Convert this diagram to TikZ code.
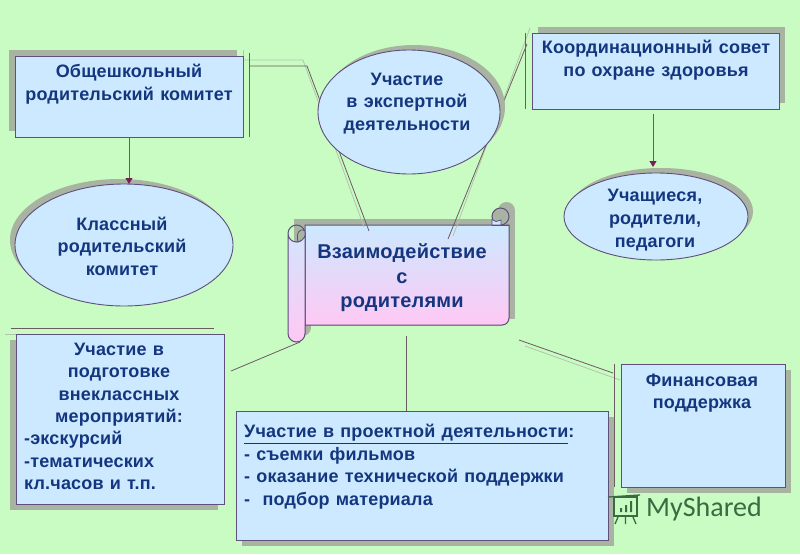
\documentclass[tikz,border=0pt]{standalone}
\usepackage{fontspec}
\setmainfont[LetterSpace=1,WordSpace=1.2]{Liberation Sans}
\newfontfamily\markfont{Carlito}
\usetikzlibrary{shapes.geometric,arrows.meta,calc}
\definecolor{bgc}{HTML}{C8FCC2}
\definecolor{boxc}{HTML}{CCE9FF}
\definecolor{shad}{HTML}{A9B3A2}
\definecolor{edge}{HTML}{5F4F7C}
\definecolor{txtc}{HTML}{14367F}
\definecolor{linec}{HTML}{6E5A62}
\definecolor{lightl}{HTML}{B4C4AC}
\definecolor{arrc}{HTML}{7A1F55}
\definecolor{pinkc}{HTML}{FFC8F4}
\definecolor{markc}{HTML}{3A6A42}
\tikzset{
  x=1pt,y=-1pt,
  panel/.style={draw=edge,line width=0.9pt,fill=boxc},
  shadowfill/.style={fill=shad,draw=none},
  label/.style={font=\fontsize{18}{22.6}\selectfont\bfseries,text=txtc,align=center,inner sep=0pt},
  leftlabel/.style={label,align=left},
  conn/.style={draw=linec,line width=0.8pt},
  ghost/.style={draw=lightl,line width=0.8pt},
  arr/.style={conn,-{Triangle[length=6pt,width=7pt,color=arrc,fill=arrc]}},
  rollline/.style={draw=edge,line width=1pt},
}
\newcommand{\boxat}[6]{% name x1 y1 x2 y2 (shadow dx,dy)
  \fill[shadowfill] ($(#2,#3)+(#6)$) rectangle ($(#4,#5)+(#6)$);
  \node[panel,rectangle,inner sep=0pt,minimum width=#4pt-#2pt,minimum height=#5pt-#3pt] (#1) at ({(#2+#4)/2},{(#3+#5)/2}) {};
}
\newcommand{\ellat}[6]{% name cx cy rx ry shadow
  \fill[shadowfill] ($(#2,#3)+(#6)$) ellipse [x radius=#4pt,y radius=#5pt];
  \node[panel,ellipse,inner sep=0pt,minimum width=2*#4pt,minimum height=2*#5pt] (#1) at (#2,#3) {};
}
\begin{document}
\begin{tikzpicture}
\useasboundingbox (0,0) rectangle (800,554);
\fill[bgc] (0,0) rectangle (800,554);

% free ends
\coordinate (a1) at (249,66); \coordinate (a2) at (307,66); \coordinate (a3) at (369,231);
\coordinate (g1) at (243,60); \coordinate (g2) at (303,60); \coordinate (g3) at (364,227);
\coordinate (b1) at (527,44); \coordinate (b2) at (448,239);
\coordinate (g4) at (530,28); \coordinate (g5) at (453,236);
\coordinate (v1t) at (249,53); \coordinate (v1b) at (249,137);
\coordinate (v0t) at (243,50); \coordinate (v0b) at (243,56);
\coordinate (v2t) at (525,33); \coordinate (v2b) at (525,109);
\coordinate (c1) at (300,342); \coordinate (c2) at (231,371);
\coordinate (d1) at (11,328); \coordinate (d2) at (214,328);
\coordinate (d3) at (5,334); \coordinate (d4) at (200,334);
\coordinate (e1) at (406,336); \coordinate (e2) at (406,411);
\coordinate (f1) at (519,340); \coordinate (f2) at (613,373);
\coordinate (g6) at (525,346); \coordinate (g7) at (620,380);
\coordinate (v3t) at (614,364); \coordinate (v3b) at (614,487);
\coordinate (h1) at (129,137); \coordinate (h2) at (129,184);
\coordinate (i1) at (653,114); \coordinate (i2) at (653,167);

% scroll
\fill[shadowfill] (294,219) rectangle (515,319);
\fill[shadowfill] (506.5,210.5) circle[radius=8.5];
\fill[shadowfill] (498,210.5) rectangle (515,225);
\fill[shadowfill] (294,234) rectangle (311,327.5);
\fill[shadowfill] (302.5,327.5) circle[radius=8.5];
\fill[top color=boxc,bottom color=pinkc,draw=edge,line width=1pt]
  (305,225) -- (509,225) -- (509,318) arc[start angle=0,end angle=90,radius=7] -- (305,325) -- cycle;
\fill[top color=boxc!85!pinkc,bottom color=pinkc,draw=edge,line width=1pt]
  (288,233.5) arc[start angle=180,end angle=0,radius=8.5] -- (305,333.5)
  arc[start angle=0,end angle=180,radius=8.5] -- cycle;
\draw[rollline] (288,233.5) arc[start angle=180,end angle=360,radius=8.5];
\fill[shad,rollline,line width=0.8pt] (298,242) .. controls (304,240) and (306,236) .. (305,231) .. controls (299,227) and (296,234) .. (298,242) -- cycle;
\fill[shad,rollline] (500.5,216.5) circle[radius=8.5];
\fill[boxc,draw=edge,line width=0.8pt] (492,225) -- (492,219.5) -- (496,221.5) -- (501,220) -- (501,225) -- cycle;
\draw[rollline] (492,225) -- (509,225);
\node[inner sep=0pt,minimum width=204pt,minimum height=100pt] (scroll) at (407,275) {};

% connectors
\draw[ghost] (v0t) -- (v0b);
\draw[ghost] (g1) -- (g2) -- (g3);
\draw[ghost] (g4) -- (g5);
\draw[ghost] (g6) -- (g7);
\draw[ghost] (d3) -- (d4);
\draw[conn] (a1) -- (a2) -- (a3);
\draw[conn] (b1) -- (b2);
\draw[conn] (v1t) -- (v1b);
\draw[conn] (v2t) -- (v2b);
\draw[conn] (c1) -- (c2);
\draw[conn] (d1) -- (d2);
\draw[conn] (e1) -- (e2);
\draw[conn] (f1) -- (f2);
\draw[conn] (v3t) -- (v3b);

% shapes
\boxat{school}{15}{56}{243}{137}{-6,-6}
\ellat{klass}{124}{245}{109}{61}{-5,-5}
\ellat{expert}{409}{112}{91}{62}{5,-5}
\boxat{coord}{532}{33}{779}{109}{6,-6}
\ellat{pupils}{656}{216.5}{92}{43.5}{5,-5}
\boxat{events}{16}{334}{224}{504}{-6,6}
\boxat{project}{236}{411}{608}{540}{6,6}
\boxat{finance}{621}{364}{785}{487}{6,6}

\draw[arr] (h1) -- (h2);
\draw[arr] (i1) -- (i2);

% texts
\node[label] (t1) at (129,84) {Общешкольный\\родительский комитет};
\node[label] (t2) at (122,246) {Классный\\родительский\\комитет};
\node[label] (t3) at (407,103.5) {Участие\\в экспертной\\деятельности};
\node[label] (t4) at (656,60) {Координационный совет\\по охране здоровья};
\node[label] (t5) at (655,220) {Учащиеся,\\родители,\\педагоги};
\node[label,font=\fontsize{20}{24.5}\selectfont\bfseries] (t6) at (402,278) {Взаимодействие\\с\\родителями};
\node[label,anchor=north] (t7) at (119,342.5) {Участие в\\подготовке\\внеклассных\\мероприятий:};
\node[leftlabel,anchor=north west] (t8) at (24,431) {-экскурсий\\-тематических\\кл.часов и т.п.};
\node[leftlabel,anchor=north west] (t9) at (244,424) {\underline{Участие в проектной деятельности}:\\- съемки фильмов\\- оказание технической поддержки\\-\ \ подбор материала};
\node[label] (t10) at (702,393) {Финансовая\\поддержка};

% watermark
\begin{scope}[draw=markc,line width=1.3pt]
\draw (608,497) -- (640,495);
\draw (614,497) rectangle (637,516);
\fill[markc] (620,508) rectangle (622,512) (625,505) rectangle (627,512) (630,501) rectangle (632,512);
\draw (618,517) -- (615,524) (625.5,517) -- (625.5,524) (633,517) -- (636,524);
\end{scope}
\node[inner sep=0pt,text=markc,font=\fontsize{28}{28}\selectfont\markfont,anchor=west] (mark) at (646,509) {MyShared};
\end{tikzpicture}
\end{document}
